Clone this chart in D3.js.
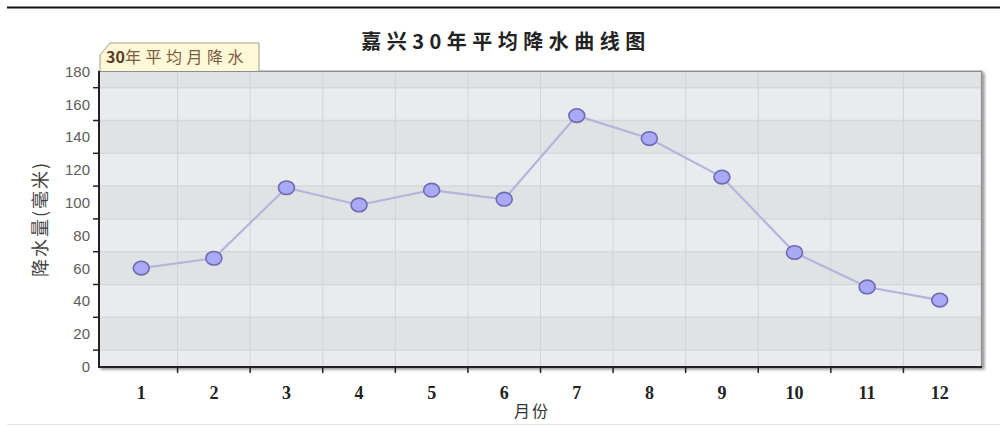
<!DOCTYPE html>
<html>
<head>
<meta charset="utf-8">
<script src="https://cdn.jsdelivr.net/npm/d3@7"></script>
<style>
  html, body { margin: 0; padding: 0; background: #fff; }
  svg { display: block; }
</style>
</head>
<body>
<svg id="chart" width="1000" height="426"></svg>
<script>
const months = ["1","2","3","4","5","6","7","8","9","10","11","12"];
const rainfall = [60, 66, 109, 98.5, 107.5, 102, 153, 139, 115.5, 69.5, 48.5, 40.5];
const yTickLabels = [0, 20, 40, 60, 80, 100, 120, 140, 160, 180];
const gridValues = [10, 30, 50, 70, 90, 110, 130, 150, 170];
const title = "嘉兴30年平均降水曲线图";
const legendLabel = ["30", "年平均月降水"];
const yTitle = "降水量(毫米)";
const xTitle = "月份";

const svg = d3.select("#chart");
const plot = { left: 99, right: 982, top: 71, bottom: 367 };

const x = d3.scaleBand().domain(months).range([105, 976]);
const y = d3.scaleLinear().domain([0, 180]).range([366.5, 71.3]);

const defs = svg.append("defs");
const sh = defs.append("filter").attr("id", "shadow").attr("x", "-5%").attr("y", "-5%").attr("width", "110%").attr("height", "115%");
sh.append("feGaussianBlur").attr("in", "SourceAlpha").attr("stdDeviation", 1.5);
sh.append("feOffset").attr("dx", 2).attr("dy", 2).attr("result", "b");
sh.append("feComponentTransfer").append("feFuncA").attr("type", "linear").attr("slope", 0.45);
const m = sh.append("feMerge"); m.append("feMergeNode"); m.append("feMergeNode").attr("in", "SourceGraphic");

// top black rule
svg.append("line").attr("x1", 7).attr("x2", 1000).attr("y1", 7.5).attr("y2", 7.5)
  .attr("stroke", "#111").attr("stroke-width", 2);
// faint bottom line
svg.append("line").attr("x1", 7).attr("x2", 1000).attr("y1", 424.5).attr("y2", 424.5)
  .attr("stroke", "#e4e4e4").attr("stroke-width", 1);

// plot background with shadow
svg.append("rect").attr("x", plot.left).attr("y", plot.top)
  .attr("width", plot.right - plot.left).attr("height", plot.bottom - plot.top)
  .attr("fill", "#e8eaed").attr("stroke", "#9a9a9a").attr("stroke-width", 1)
  .attr("filter", "url(#shadow)");

// alternating bands
const bandEdges = [0].concat(gridValues, [180]);
for (let i = 0; i < bandEdges.length - 1; i++) {
  const lo = bandEdges[i], hi = bandEdges[i + 1];
  svg.append("rect").attr("x", plot.left + 0.5).attr("width", plot.right - plot.left - 1)
    .attr("y", y(hi)).attr("height", y(lo) - y(hi))
    .attr("fill", i % 2 === 0 ? "#e9ebee" : "#e1e2e3");
}
// horizontal grid lines
svg.selectAll("line.hg").data(gridValues).join("line").attr("class", "hg")
  .attr("x1", plot.left).attr("x2", plot.right)
  .attr("y1", d => y(d)).attr("y2", d => y(d))
  .attr("stroke", "#d6d7d9").attr("stroke-width", 1.5);
// vertical grid lines at band boundaries
const bounds = months.slice(1).map(d => x(d));
svg.selectAll("line.vg").data(bounds).join("line").attr("class", "vg")
  .attr("x1", d => d).attr("x2", d => d)
  .attr("y1", plot.top).attr("y2", plot.bottom)
  .attr("stroke", "#d0d3d8").attr("stroke-width", 1);

// top border
svg.append("line").attr("x1", plot.left).attr("x2", plot.right).attr("y1", plot.top + 0.5).attr("y2", plot.top + 0.5)
  .attr("stroke", "#8e8e8e").attr("stroke-width", 1);
svg.append("line").attr("x1", plot.right - 0.5).attr("x2", plot.right - 0.5).attr("y1", plot.top).attr("y2", plot.bottom)
  .attr("stroke", "#8e8e8e").attr("stroke-width", 1.2);

// axes lines
svg.append("line").attr("x1", plot.left).attr("x2", plot.left).attr("y1", plot.top).attr("y2", plot.bottom + 1)
  .attr("stroke", "#222").attr("stroke-width", 2);
svg.append("line").attr("x1", plot.left - 1).attr("x2", plot.right).attr("y1", plot.bottom).attr("y2", plot.bottom)
  .attr("stroke", "#222").attr("stroke-width", 2);

// y tick marks at grid positions
svg.selectAll("line.yt").data(gridValues).join("line").attr("class", "yt")
  .attr("x1", plot.left - 6).attr("x2", plot.left)
  .attr("y1", d => y(d)).attr("y2", d => y(d))
  .attr("stroke", "#222").attr("stroke-width", 1.5);
// y tick labels
svg.selectAll("text.yl").data(yTickLabels).join("text").attr("class", "yl")
  .attr("x", 90).attr("y", d => y(d)).attr("dy", "0.36em")
  .attr("text-anchor", "end").attr("font-family", "Liberation Sans, Arial, sans-serif")
  .attr("font-size", 15).attr("fill", "#5c5c5c").text(d => d);

// x tick marks at boundaries
svg.selectAll("line.xt").data(bounds).join("line").attr("class", "xt")
  .attr("x1", d => d).attr("x2", d => d)
  .attr("y1", plot.bottom).attr("y2", plot.bottom + 6)
  .attr("stroke", "#222").attr("stroke-width", 1.5);
// x labels
svg.selectAll("text.xl").data(months).join("text").attr("class", "xl")
  .attr("x", d => x(d) + x.bandwidth() / 2).attr("y", 399)
  .attr("text-anchor", "middle").attr("font-family", "Liberation Serif, DejaVu Serif, serif")
  .attr("font-weight", "bold").attr("font-size", 18).attr("fill", "#222").text(d => d);

// line + markers
const line = d3.line().x((d, i) => x(months[i]) + x.bandwidth() / 2).y(d => y(d));
svg.append("path").datum(rainfall).attr("d", line)
  .attr("fill", "none").attr("stroke", "#b4b4de").attr("stroke-width", 2.2);
svg.selectAll("ellipse.pt").data(rainfall).join("ellipse").attr("class", "pt")
  .attr("cx", (d, i) => x(months[i]) + x.bandwidth() / 2).attr("cy", d => y(d))
  .attr("rx", 8).attr("ry", 6.8)
  .attr("fill", "#a9a9f5").attr("stroke", "#6c6cb4").attr("stroke-width", 1.6);

// title
svg.append("text").attr("x", 506).attr("y", 49).attr("text-anchor", "middle")
  .attr("font-family", "Noto Sans CJK SC, sans-serif").attr("font-weight", "bold")
  .attr("font-size", 20).attr("letter-spacing", 5.5).attr("fill", "#222").text(title);

// legend tab
const tab = d3.path();
tab.moveTo(100, 71); tab.lineTo(100, 55); tab.lineTo(110, 43); tab.lineTo(259, 43); tab.lineTo(259, 71);
svg.append("path").attr("d", tab.toString()).attr("fill", "#fdf8d8").attr("stroke", "#a49c84").attr("stroke-width", 1);
const lt = svg.append("text").attr("x", 106).attr("y", 63)
  .attr("font-family", "Noto Sans CJK SC, sans-serif").attr("font-size", 16);
lt.append("tspan").attr("font-weight", "bold").attr("fill", "#5a3e22").text(legendLabel[0]);
lt.append("tspan").attr("fill", "#7a5c3c").attr("letter-spacing", 4.5).text(legendLabel[1]);

// axis titles
svg.append("text").attr("transform", "translate(47,219) rotate(-90)").attr("text-anchor", "middle")
  .attr("font-family", "Noto Sans CJK SC, sans-serif").attr("font-size", 18).attr("letter-spacing", 2)
  .attr("fill", "#444").text(yTitle);
svg.append("text").attr("x", 532).attr("y", 417).attr("text-anchor", "middle")
  .attr("font-family", "Noto Sans CJK SC, sans-serif").attr("font-size", 16).attr("letter-spacing", 2)
  .attr("fill", "#333").text(xTitle);
</script>
</body>
</html>
